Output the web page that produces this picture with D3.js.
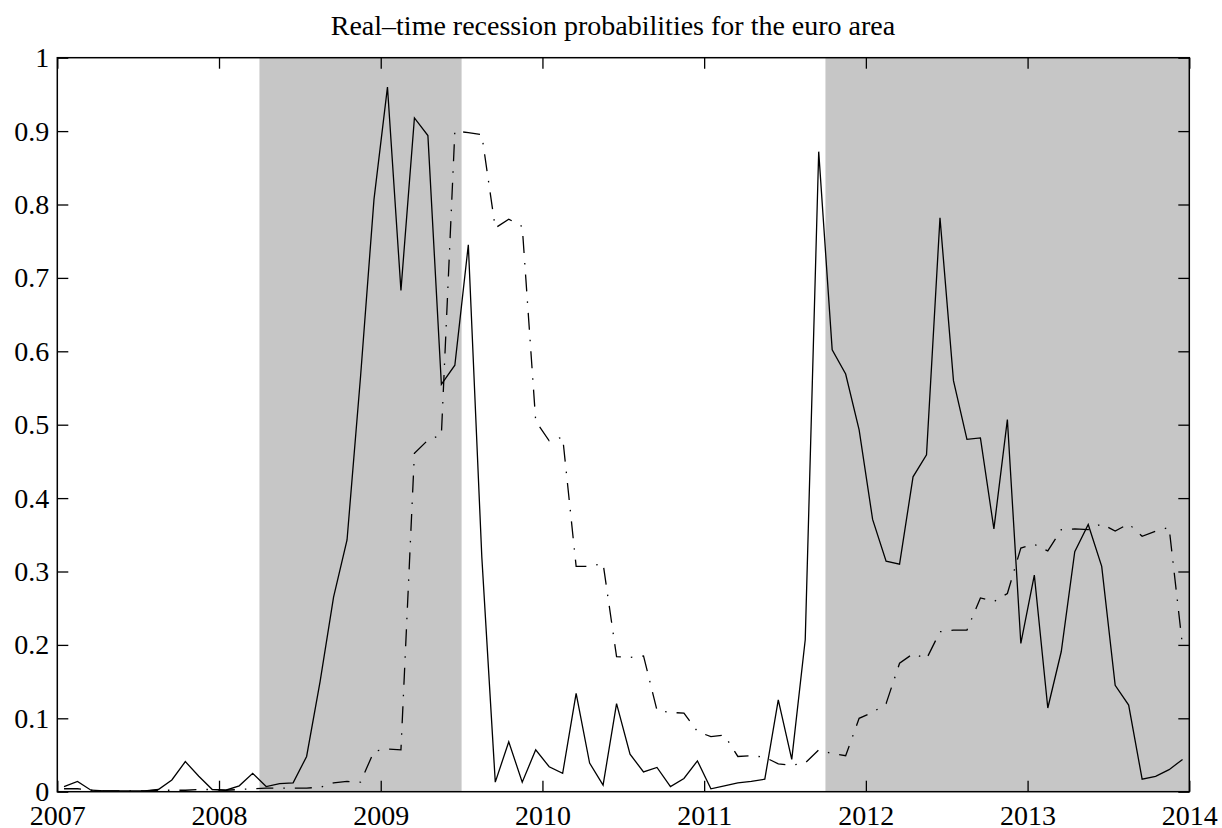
<!DOCTYPE html>
<html>
<head>
<meta charset="utf-8">
<script src="https://cdn.jsdelivr.net/npm/d3@7"></script>
<style>
  body { margin: 0; background: #fff; overflow: hidden; }
  svg { display: block; }
  text { font-family: "Liberation Serif", "Times New Roman", serif; fill: #000; }
</style>
</head>
<body>
<script>
// monthly data, Jan 2007 .. Dec 2013 (points sit mid-month)
var startYear = 2007;
var yearTicks = [2007, 2008, 2009, 2010, 2011, 2012, 2013, 2014];
var probTicks = [0, 0.1, 0.2, 0.3, 0.4, 0.5, 0.6, 0.7, 0.8, 0.9, 1];
var recessions = [[2008.25, 2009.5], [2011.75, 2014]];

// solid line
var solidProb = [
  0.007, 0.014, 0.002, 0.001, 0.001, 0.001, 0.001, 0.003, 0.016, 0.041, 0.021, 0.003,
  0.002, 0.008, 0.025, 0.007, 0.011, 0.012, 0.048, 0.150, 0.265, 0.343, 0.565, 0.807,
  0.960, 0.683, 0.918, 0.894, 0.555, 0.581, 0.745, 0.320, 0.013, 0.068, 0.013, 0.057,
  0.034, 0.025, 0.134, 0.039, 0.009, 0.120, 0.051, 0.027, 0.033, 0.007, 0.018, 0.042,
  0.004, 0.008, 0.012, 0.014, 0.017, 0.125, 0.044, 0.207, 0.872, 0.602, 0.569, 0.493,
  0.371, 0.314, 0.310, 0.429, 0.459, 0.782, 0.560, 0.480, 0.482, 0.358, 0.507, 0.202,
  0.295, 0.114, 0.191, 0.327, 0.364, 0.307, 0.145, 0.118, 0.017, 0.021, 0.030, 0.044
];

// dash-dot line
var dashProb = [
  0.004, 0.004, 0.002, 0.001, 0.001, 0.001, 0.001, 0.002, 0.002, 0.002, 0.003, 0.003,
  0.002, 0.003, 0.004, 0.005, 0.005, 0.005, 0.005, 0.006, 0.012, 0.014, 0.013, 0.055,
  0.058, 0.057, 0.461, 0.479, 0.486, 0.900, 0.898, 0.895, 0.768, 0.780, 0.770, 0.505,
  0.478, 0.483, 0.307, 0.307, 0.311, 0.184, 0.183, 0.185, 0.111, 0.108, 0.107, 0.082,
  0.075, 0.077, 0.048, 0.049, 0.047, 0.038, 0.036, 0.039, 0.057, 0.052, 0.049, 0.100,
  0.108, 0.120, 0.175, 0.188, 0.181, 0.218, 0.220, 0.220, 0.264, 0.259, 0.270, 0.332,
  0.337, 0.328, 0.357, 0.358, 0.357, 0.365, 0.355, 0.365, 0.348, 0.355, 0.360, 0.198
];

var width = 1222, height = 828;
var plot = { left: 57.3, right: 1189.3, top: 57.7, bottom: 791.7 };

var svg = d3.select("body").append("svg")
    .attr("width", width).attr("height", height);

var xscale = d3.scaleLinear()
    .domain([2007, 2014])
    .range([plot.left, plot.right]);
var yscale = d3.scaleLinear()
    .domain([0, 1])
    .range([plot.bottom, plot.top]);

function monthPos(i) { return startYear + (i + 0.5) / 12; }

// recession shading
svg.append("g").selectAll("rect")
    .data(recessions)
    .enter().append("rect")
    .attr("x", function(d) { return xscale(d[0]); })
    .attr("width", function(d) { return xscale(d[1]) - xscale(d[0]); })
    .attr("y", plot.top)
    .attr("height", plot.bottom - plot.top)
    .attr("fill", "#c6c6c6");

var line = d3.line()
    .x(function(d, i) { return xscale(monthPos(i)); })
    .y(function(d) { return yscale(d); });

svg.append("path")
    .datum(solidProb)
    .attr("d", line)
    .attr("fill", "none")
    .attr("stroke", "#000")
    .attr("stroke-width", 1.3);

svg.append("path")
    .datum(dashProb)
    .attr("d", line)
    .attr("fill", "none")
    .attr("stroke", "#000")
    .attr("stroke-width", 1.3)
    .attr("stroke-dasharray", "17,10,1.5,10");

// axes, ticks pointing inward
var fmt = function(d) { return String(d); };

var xbottom = d3.axisBottom(xscale).tickValues(yearTicks).tickFormat(fmt)
    .tickSizeInner(-11).tickSizeOuter(0).tickPadding(13.5);
var xtop = d3.axisTop(xscale).tickValues(yearTicks).tickFormat("")
    .tickSizeInner(-11).tickSizeOuter(0);
var yleft = d3.axisLeft(yscale).tickValues(probTicks).tickFormat(fmt)
    .tickSizeInner(-11).tickSizeOuter(0).tickPadding(8);
var yright = d3.axisRight(yscale).tickValues(probTicks).tickFormat("")
    .tickSizeInner(-11).tickSizeOuter(0);

function styleAxis(g) {
  g.select(".domain").remove();
  g.selectAll("line").attr("stroke", "#000").attr("stroke-width", 1.3);
  g.selectAll("text").style("font-size", "28px")
    .style("font-family", "'Liberation Serif', 'Times New Roman', serif").attr("fill", "#000");
}

svg.append("g").attr("transform", "translate(0," + plot.bottom + ")").call(xbottom).call(styleAxis);
svg.append("g").attr("transform", "translate(0," + plot.top + ")").call(xtop).call(styleAxis);
svg.append("g").attr("transform", "translate(" + plot.left + ",0)").call(yleft).call(styleAxis);
svg.append("g").attr("transform", "translate(" + plot.right + ",0)").call(yright).call(styleAxis);

// box
svg.append("rect")
    .attr("x", plot.left).attr("y", plot.top)
    .attr("width", plot.right - plot.left).attr("height", plot.bottom - plot.top)
    .attr("fill", "none").attr("stroke", "#000").attr("stroke-width", 1.5);

svg.append("text")
    .attr("x", 613)
    .attr("y", 35)
    .attr("text-anchor", "middle")
    .style("font-size", "28px")
    .text("Real\u2013time recession probabilities for the euro area");
</script>
</body>
</html>
